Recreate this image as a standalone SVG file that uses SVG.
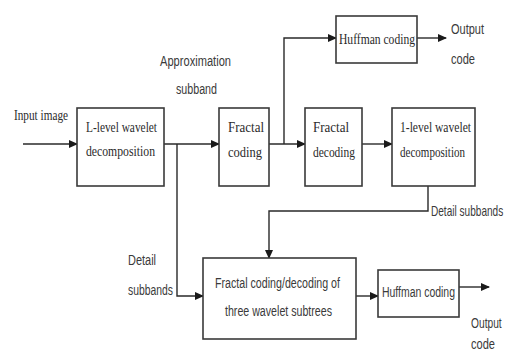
<svg xmlns="http://www.w3.org/2000/svg" width="507" height="352" viewBox="0 0 507 352">
<defs>
<marker id="ah" markerWidth="9" markerHeight="8" refX="8" refY="4" orient="auto" markerUnits="userSpaceOnUse">
<path d="M0,0 L9,4 L0,8 Z" fill="#1a1a1a"/>
</marker>
<style>
.box{fill:#fff;stroke:#3a3a3a;stroke-width:1.6}
.ln{fill:none;stroke:#2a2a2a;stroke-width:1.4}
.sf{font-family:"Liberation Serif",serif;font-size:14px;fill:#2a2a2a}
.ss{font-family:"Liberation Sans",sans-serif;font-size:14px;fill:#3a3a3a}
</style>
</defs>
<rect width="507" height="352" fill="#fff"/>
<g id="connectors">
<path class="ln" d="M23,144 H77" marker-end="url(#ah)"/>
<path class="ln" d="M164,144 H219" marker-end="url(#ah)"/>
<path class="ln" d="M177,144 V296 H203" marker-end="url(#ah)"/>
<path class="ln" d="M269,144 H305" marker-end="url(#ah)"/>
<path class="ln" d="M284,144 V38 H336" marker-end="url(#ah)"/>
<path class="ln" d="M417,38 H446" marker-end="url(#ah)"/>
<path class="ln" d="M362,144 H392" marker-end="url(#ah)"/>
<path class="ln" d="M428,186 V211 H269 V258" marker-end="url(#ah)"/>
<path class="ln" d="M356,296 H378" marker-end="url(#ah)"/>
<path class="ln" d="M459,287 H489" marker-end="url(#ah)"/>
</g>
<g id="labels">
<text class="sf" x="14" y="120" textLength="54" lengthAdjust="spacingAndGlyphs">Input image</text>
<text class="ss" x="160" y="66" textLength="71" lengthAdjust="spacingAndGlyphs">Approximation</text>
<text class="ss" x="176" y="94" textLength="41" lengthAdjust="spacingAndGlyphs">subband</text>
<text class="ss" x="451" y="34" textLength="33" lengthAdjust="spacingAndGlyphs">Output</text>
<text class="ss" x="451" y="64" textLength="24" lengthAdjust="spacingAndGlyphs">code</text>
<text class="ss" transform="translate(431,216) scale(0.72,1)">Detail subbands</text>
<text class="ss" x="128" y="265" textLength="28" lengthAdjust="spacingAndGlyphs">Detail</text>
<text class="ss" x="128" y="295" textLength="45" lengthAdjust="spacingAndGlyphs">subbands</text>
<text class="ss" transform="translate(471,328) scale(0.73,1)">Output</text>
<text class="ss" x="471" y="349" textLength="24" lengthAdjust="spacingAndGlyphs">code</text>
</g>
<g id="n1">
<rect class="box" x="77" y="108" width="87" height="78"/>
<text class="sf" x="86" y="132" textLength="71" lengthAdjust="spacingAndGlyphs">L-level wavelet</text>
<text class="sf" x="86" y="156" textLength="69" lengthAdjust="spacingAndGlyphs">decomposition</text>
</g>
<g id="n2">
<rect class="box" x="219" y="108" width="50" height="78"/>
<text class="sf" x="228" y="132" textLength="36" lengthAdjust="spacingAndGlyphs">Fractal</text>
<text class="sf" x="228" y="157" textLength="34" lengthAdjust="spacingAndGlyphs">coding</text>
</g>
<g id="n3">
<rect class="box" x="336" y="16" width="81" height="47"/>
<text class="sf" x="339" y="44" textLength="76" lengthAdjust="spacingAndGlyphs">Huffman coding</text>
</g>
<g id="n4">
<rect class="box" x="305" y="108" width="57" height="78"/>
<text class="sf" x="313" y="132" textLength="36" lengthAdjust="spacingAndGlyphs">Fractal</text>
<text class="sf" x="313" y="157" textLength="42" lengthAdjust="spacingAndGlyphs">decoding</text>
</g>
<g id="n5">
<rect class="box" x="392" y="108" width="83" height="78"/>
<text class="sf" x="400" y="132" textLength="71" lengthAdjust="spacingAndGlyphs">1-level wavelet</text>
<text class="sf" x="400" y="157" textLength="65" lengthAdjust="spacingAndGlyphs">decomposition</text>
</g>
<g id="n6">
<rect class="box" x="203" y="258" width="153" height="81"/>
<text class="ss" x="215" y="288" textLength="125" lengthAdjust="spacingAndGlyphs">Fractal coding/decoding of</text>
<text class="ss" x="225" y="316" textLength="107" lengthAdjust="spacingAndGlyphs">three wavelet subtrees</text>
</g>
<g id="n7">
<rect class="box" x="378" y="270" width="81" height="47"/>
<text class="ss" x="382" y="297" textLength="73" lengthAdjust="spacingAndGlyphs">Huffman coding</text>
</g>
</svg>
